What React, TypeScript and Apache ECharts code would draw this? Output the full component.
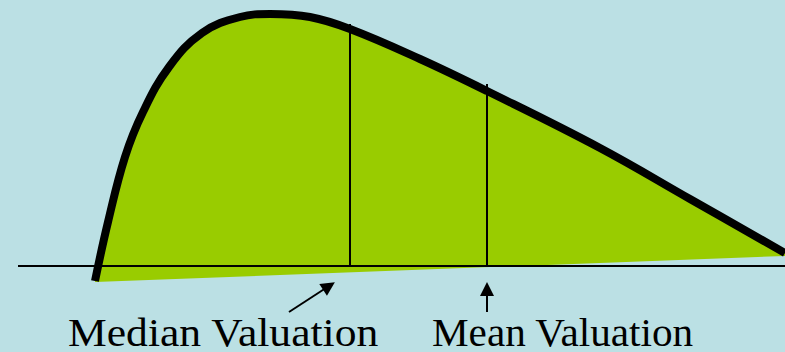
import React, { useEffect, useRef } from "react";
import * as echarts from "echarts";

// Valuation distribution curve (x: valuation units, y: density units, 0 = axis line)
const curveX = [95, 108, 125, 143, 169, 202, 240, 270, 310, 350, 420, 487, 600, 690, 785];
const curveY = [-15, 44, 109, 154, 199, 233, 249, 252, 249, 237, 207, 175, 118, 67, 13];

// Slanted lower edge of the filled region
const baseX = [95, 785];
const baseY = [-16, 10];

// Horizontal axis line
const axisX = [18, 785];

// Median / mean markers
const medianX = 350;
const medianTop = 242;
const meanX = 487;
const meanTop = 182;

// Arrows (tail, head)
const medianArrow = [[289, -46], [329, -20]];
const meanArrow = [[487, -46], [487, -23]];

const labels = ["Median Valuation", "Mean Valuation"];
const labelX = [68, 432];
const labelStretch = [1.09, 1.03];

const X_MIN = 0;
const X_MAX = 785;
const Y_MIN = -86;
const Y_MAX = 266;

const BG = "#BBE0E4";
const GREEN = "#99CC00";
const SERIF = "'Liberation Serif', 'Times New Roman', Times, 'DejaVu Serif', serif";

export default function App() {
  const ref = useRef<HTMLDivElement>(null);

  useEffect(() => {
    document.body.style.margin = "0";
    if (!ref.current) return;
    const chart = echarts.init(ref.current, undefined, { renderer: "svg" });
    const curveData = curveX.map((x, i) => [x, curveY[i]]);

    const option: any = {
      animation: false,
      backgroundColor: BG,
      textStyle: { fontFamily: SERIF },
      grid: { left: 0, right: 0, top: 0, bottom: 0 },
      xAxis: { type: "value", min: X_MIN, max: X_MAX, show: false },
      yAxis: { type: "value", min: Y_MIN, max: Y_MAX, show: false },
      series: [
        {
          name: "fill",
          type: "line",
          data: curveData,
          smooth: 0.4,
          showSymbol: false,
          silent: true,
          lineStyle: { width: 0, color: GREEN },
          areaStyle: { color: GREEN, opacity: 1, origin: "start" },
          z: 1,
        },
        {
          name: "cover",
          type: "custom",
          silent: true,
          z: 2,
          data: [[baseX[0], baseY[0], baseX[1], baseY[1]]],
          encode: { x: [0, 2], y: [1, 3] },
          renderItem: (params: any, api: any) => {
            const p0 = api.coord([api.value(0), api.value(1)]);
            const p1 = api.coord([api.value(2), api.value(3)]);
            const cs = params.coordSys;
            const bottom = cs.y + cs.height + 2;
            return {
              type: "polygon",
              shape: {
                points: [
                  [p0[0] - 6, p0[1]],
                  p0,
                  p1,
                  [p1[0] + 6, p1[1]],
                  [p1[0] + 6, bottom],
                  [p0[0] - 6, bottom],
                ],
              },
              style: { fill: BG, stroke: null },
            };
          },
        },
        {
          name: "axis",
          type: "line",
          data: axisX.map((x) => [x, 0]),
          showSymbol: false,
          silent: true,
          lineStyle: { color: "#000", width: 2 },
          z: 3,
          markLine: {
            silent: true,
            symbol: ["none", "none"],
            label: { show: false },
            lineStyle: { color: "#000", width: 2, type: "solid" },
            data: [
              [{ coord: [medianX, 0] }, { coord: [medianX, medianTop] }],
              [{ coord: [meanX, 0] }, { coord: [meanX, meanTop] }],
            ],
          },
        },
        {
          name: "curve",
          type: "line",
          data: curveData,
          smooth: 0.4,
          showSymbol: false,
          silent: true,
          lineStyle: { color: "#000", width: 8, cap: "butt" },
          z: 4,
        },
        {
          name: "arrows",
          type: "line",
          data: [],
          silent: true,
          z: 5,
          markLine: {
            silent: true,
            symbol: ["none", "triangle"],
            symbolSize: [14, 14],
            label: { show: false },
            lineStyle: { color: "#000", width: 2, type: "solid" },
            itemStyle: { color: "#000" },
            data: [
              [{ coord: medianArrow[0] }, { coord: medianArrow[1] }],
              [{ coord: meanArrow[0] }, { coord: meanArrow[1] }],
            ],
          },
        },
      ],
      graphic: labels.map((t, i) => ({
        type: "text",
        x: labelX[i],
        y: 315,
        scaleX: labelStretch[i],
        z: 10,
        style: {
          text: t,
          font: "40px " + SERIF,
          lineHeight: 36,
          fill: "#000",
          verticalAlign: "top",
          align: "left",
        },
      })),
    };
    chart.setOption(option);
    return () => chart.dispose();
  }, []);

  return (
    <div
      ref={ref}
      style={{ position: "absolute", left: 0, top: 0, width: 785, height: 352 }}
    />
  );
}
